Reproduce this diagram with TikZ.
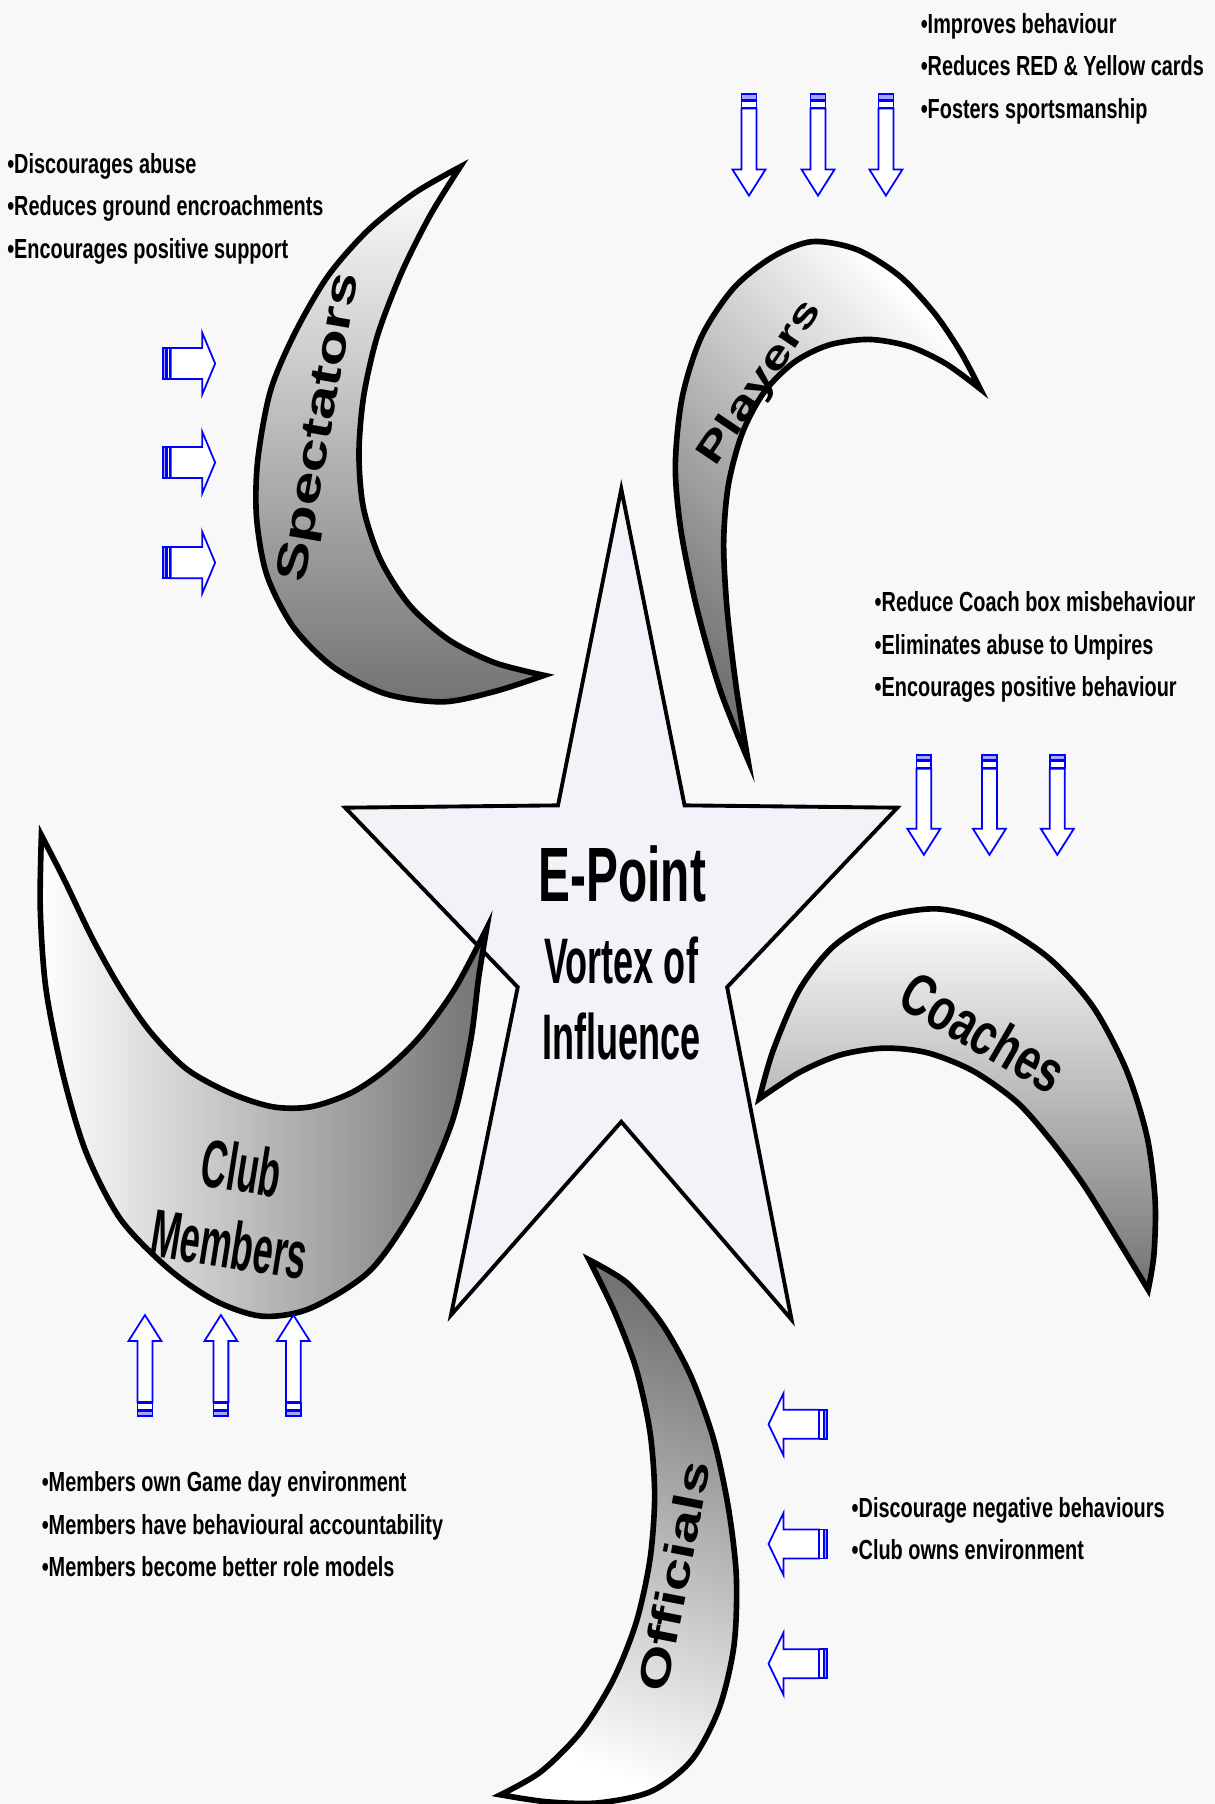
\documentclass[tikz,border=0pt]{standalone}
\usepackage{fontspec}
\setmainfont{Liberation Sans}
\newfontfamily\headfont[FakeStretch=0.62]{Liberation Sans}
\newfontfamily\narrowfont[FakeStretch=0.56]{Liberation Sans}
\newfontfamily\clubfont[FakeStretch=0.53]{Liberation Sans}
\newfontfamily\coachfont[FakeStretch=0.72]{Liberation Sans}
\newfontfamily\listfont[FakeStretch=0.72]{Liberation Sans}
\newfontfamily\widefont[FakeStretch=1.4]{Liberation Sans}
\usetikzlibrary{calc}

\definecolor{bgcol}{HTML}{F8F8F8}
\definecolor{starcol}{HTML}{F2F2F8}
\definecolor{arrowblue}{HTML}{0000FF}

\tikzset{
	crescent/.style={draw=black, line width=3.2pt},
	arrowline/.style={draw=arrowblue, fill=white, line width=1pt},
	bullets/.style={anchor=north west, inner sep=0pt, align=left, font=\listfont\bfseries\fontsize{15.7}{24.2}\selectfont},
	wordart/.style={inner sep=0pt, font=\widefont\bfseries\fontsize{#1}{#1}\selectfont}
}

% tail, angle, length, shaft half width, head half width, head length
\newcommand{\striparrow}[6]{%
	\begin{scope}[shift={#1}, rotate=#2]
		\filldraw[arrowline, fill=arrowblue!35] (0,-#4) rectangle ({0.05*#3},#4);
		\filldraw[arrowline] ({0.065*#3},-#4) rectangle ({0.13*#3},#4);
		\filldraw[arrowline] ({0.14*#3},-#4) -- ({#3-#6},-#4) -- ({#3-#6},-#5) -- (#3,0)
			-- ({#3-#6},#5) -- ({#3-#6},#4) -- ({0.14*#3},#4) -- cycle;
	\end{scope}}

\begin{document}
\begin{tikzpicture}[x=0.023cm, y=-0.023cm]
	\fill[bgcol] (0,0) rectangle (1056,1568);
	\useasboundingbox (0,0) rectangle (1056,1568);

	\draw[line width=2.2pt, fill=starcol] (540,425) -- (595,700) -- (780,702) -- (632,858) -- (688,1147)
		-- (540,975) -- (392,1143) -- (450,858) -- (300,702) -- (485,700) -- cycle;

	% spectators
	\draw[crescent, top color=white, bottom color=black!55]
		plot[smooth] coordinates {(400,145) (360,168) (320,200) (285,240) (256,290) (235,340) (224,400) (223,450) (232,500) (255,545) (290,580) (335,603) (385,610) (430,601) (473,587)}
		-- plot[smooth] coordinates {(473,587) (430,576) (390,556) (356,526) (331,487) (316,442) (312,395) (316,345) (328,292) (349,237) (374,187) (400,145)} -- cycle;

	% players
	\draw[crescent, top color=white, bottom color=black!55, shading angle=-45]
		plot[smooth] coordinates {(650,660) (626,600) (606,530) (592,462) (587,405) (593,345) (610,292) (638,250) (672,223) (706,210) (745,217) (782,240) (812,272) (835,306) (852,338)}
		-- plot[smooth] coordinates {(852,338) (822,316) (790,301) (755,295) (720,300) (690,315) (664,341) (645,377) (633,422) (629,472) (632,530) (640,598) (650,660)} -- cycle;

	% coaches
	\draw[crescent, top color=white, bottom color=black!55]
		plot[smooth] coordinates {(660,955) (672,913) (695,860) (725,822) (765,798) (815,790) (865,803) (912,833) (950,875) (979,930) (997,988) (1004,1043) (1003,1090) (998,1121)}
		-- plot[smooth] coordinates {(998,1121) (970,1075) (942,1030) (914,992) (884,958) (846,931) (806,915) (768,911) (730,917) (695,932) (660,955)} -- cycle;

	% officials
	\draw[crescent, top color=black!55, bottom color=white, shading angle=-20]
		plot[smooth] coordinates {(512,1095) (545,1115) (575,1150) (600,1195) (620,1250) (633,1310) (640,1370) (638,1430) (625,1485) (601,1530) (566,1557) (520,1567) (475,1566) (435,1560)}
		-- plot[smooth] coordinates {(435,1560) (470,1540) (505,1505) (533,1460) (553,1410) (565,1355) (569,1300) (565,1245) (553,1190) (534,1140) (512,1095)} -- cycle;

	% club members
	\draw[crescent, left color=white, right color=black!55]
		plot[smooth] coordinates {(36,726) (35,790) (40,860) (55,935) (75,1002) (105,1060) (148,1104) (188,1131) (228,1144) (270,1137) (322,1104) (362,1046) (393,975) (409,905) (416,850) (423,807)}
		-- plot[smooth] coordinates {(423,807) (395,860) (365,901) (335,930) (305,950) (270,962) (237,962) (200,950) (162,929) (130,896) (104,858) (80,815) (56,765) (36,726)} -- cycle;

	\node[font=\headfont\bfseries\fontsize{43.8}{43.8}\selectfont] (epoint) at (541,760) {E-Point};
	\node[font=\narrowfont\bfseries\fontsize{36.6}{43}\selectfont, align=center] (vortex) at (540,868) {Vortex of\\Influence};

	\node[wordart=24.6, rotate=80] (spectators) at (279,372) {Spectators};
	\node[wordart=21.8, rotate=56] (players) at (661,333) {Players};
	\node[wordart=24, rotate=79] (officials) at (586,1370) {Officials};
	\node[font=\coachfont\bfseries\fontsize{33.8}{33.8}\selectfont, rotate=-30] (coaches) at (855,897) {Coaches};
	\node[font=\clubfont\bfseries\fontsize{38.4}{44}\selectfont, align=center, rotate=-9] (club) at (205,1048) {Club\\Members};

	\node[bullets] (playtext) at (800,11) {•Improves behaviour\\•Reduces RED \& Yellow cards\\•Fosters sportsmanship};
	\node[bullets] (spectext) at (6,133) {•Discourages abuse\\•Reduces ground encroachments\\•Encourages positive support};
	\node[bullets] (coachtext) at (760,514) {•Reduce Coach box misbehaviour\\•Eliminates abuse to Umpires\\•Encourages positive behaviour};
	\node[bullets] (clubtext) at (36,1279) {•Members own Game day environment\\•Members have behavioural accountability\\•Members become better role models};
	\node[bullets] (officialtext) at (740,1301) {•Discourage negative behaviours\\•Club owns environment};

	\foreach \x in {651,711,770} {\striparrow{(\x,82)}{-90}{88}{6.5}{14.3}{22.6}}
	\foreach \x in {803,860,919} {\striparrow{(\x,656)}{-90}{87}{6.5}{14.3}{22.6}}
	\foreach \x in {126,192,255} {\striparrow{(\x,1231)}{90}{88}{6.5}{14.3}{22.6}}
	\foreach \y in {316,402,489} {\striparrow{(142,\y)}{0}{45}{13.5}{27}{11.3}}
	\foreach \y in {1238,1342,1446} {\striparrow{(719,\y)}{180}{51}{12.6}{27}{13}}
\end{tikzpicture}
\end{document}
